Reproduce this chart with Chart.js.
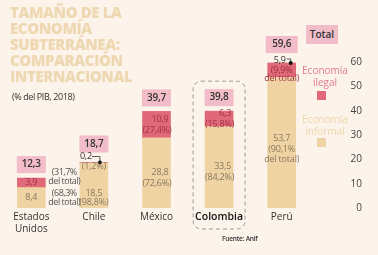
<!DOCTYPE html>
<html>
<head>
<meta charset="utf-8">
<script src="https://cdn.jsdelivr.net/npm/chart.js@4.4.1/dist/chart.umd.min.js"></script>
<style>
  html, body { margin: 0; padding: 0; background: #fcf3ea; }
  #wrap { position: relative; width: 378px; height: 255px; overflow: hidden; font-family: "Open Sans", sans-serif; }
  #wrap canvas { position: absolute; left: 0; top: 0; }
  .abs { position: absolute; white-space: nowrap; }
  #title { left: 10px; top: 4px; font-size: 15px; font-weight: 800; line-height: 16px; color: #eed8b2; letter-spacing: -0.4px; }
  #sub { left: 12px; top: 90px; font-size: 9px; color: #333; letter-spacing: -0.4px; }
  #src { left: 222px; top: 234px; font-size: 6.5px; font-weight: 600; color: #333; letter-spacing: -0.2px; }
  #totalKey { left: 306px; top: 25px; width: 32px; height: 19px; line-height: 19px; background: #f2bcc8; text-align: center; font-size: 10px; font-weight: 600; color: #333; }
  .keyText { width: 50px; text-align: center; font-size: 10px; line-height: 12px; }
  .sq { width: 9px; height: 9px; }
</style>
</head>
<body>
<div id="wrap">
  <canvas id="chart" width="378" height="255"></canvas>
  <div class="abs" id="title">TAMAÑO DE LA<br>ECONOMÍA<br>SUBTERRÁNEA:<br>COMPARACIÓN<br>INTERNACIONAL</div>
  <div class="abs" id="sub">(% del PIB, 2018)</div>
  <div class="abs" id="totalKey">Total</div>
  <div class="abs keyText" style="left:300px;top:64px;color:#e07b8d;">Economía<br>ilegal</div>
  <div class="abs sq" style="left:317px;top:91px;background:#e06878;"></div>
  <div class="abs keyText" style="left:300px;top:113px;color:#efd6a8;">Economía<br>informal</div>
  <div class="abs sq" style="left:317px;top:138px;background:#efd3a3;"></div>
  <div class="abs" id="src">Fuente: Anif</div>
</div>
<script>
// data (% of GDP, 2018)
const countries = [["Estados", "Unidos"], "Chile", "México", "Colombia", "Perú"];
const informal = [8.4, 18.5, 28.8, 33.5, 53.7];
const ilegal = [3.9, 0.2, 10.9, 6.3, 5.9];
const totals = [12.3, 18.7, 39.7, 39.8, 59.6];
const informalShare = ["68,3%", "98,8%", "72,6%", "84,2%", "90,1%"];
const ilegalShare = ["31,7%", "1,2%", "27,4%", "15,8%", "9,9%"];
const yTicks = [0, 10, 20, 30, 40, 50, 60];

const fmt = (v) => v.toFixed(1).replace(".", ",");

const BEIGE = "#efd3a3";
const RED = "#e06878";
const PINK = "#f2bcc8";
const beigeText = "#8a7860";
const redText = "#9e3343";
const noteText = "#555";
const FONT = '"Open Sans", sans-serif';

// labels, totals and notes on top of the bars
const barLabels = {
  id: "barLabels",
  afterDatasetsDraw(chart) {
    const ctx = chart.ctx;
    const inf = chart.getDatasetMeta(0).data;
    const il = chart.getDatasetMeta(1).data;

    function txt(s, x, y, color, align, weight, size) {
      ctx.font = (weight || "400") + " " + (size || 9) + "px " + FONT;
      ctx.fillStyle = color;
      ctx.textAlign = align || "center";
      ctx.textBaseline = "middle";
      ctx.fillText(s, x, y);
    }
    function marker(xText, yText, xDot, yDot) {
      ctx.strokeStyle = "#333";
      ctx.lineWidth = 0.8;
      ctx.beginPath();
      ctx.moveTo(xText, yText - 3);
      ctx.lineTo(xDot, yText - 3);
      ctx.lineTo(xDot, yDot);
      ctx.stroke();
      ctx.fillStyle = "#111";
      ctx.beginPath();
      ctx.arc(xDot, yDot, 2, 0, Math.PI * 2);
      ctx.fill();
    }

    ctx.save();
    ctx.letterSpacing = "-0.2px";
    for (let i = 0; i < countries.length; i++) {
      const x = inf[i].x;
      const w = inf[i].width;
      const right = x + w / 2;
      const top = il[i].y;
      const infMid = (inf[i].base + inf[i].y) / 2;
      const ilMid = (il[i].base + il[i].y) / 2;
      const outside = i === 1 || i === 4;

      // total box
      const bw = i === 4 ? 32 : 29, bh = 17;
      const bBottom = top - (outside ? 10 : 5);
      ctx.fillStyle = PINK;
      ctx.fillRect(x - bw / 2, bBottom - bh, bw, bh);
      txt(fmt(totals[i]), x, bBottom - bh / 2, "#333", "center", "600", 10);

      if (i === 0) {
        txt(fmt(ilegal[i]), x, ilMid, redText);
        txt(fmt(informal[i]), x, infMid, beigeText);
        const nx = right + 19;
        ctx.letterSpacing = "-0.5px";
        txt("(" + ilegalShare[i], nx, ilMid - 10, noteText);
        txt("del total)", nx, ilMid - 1, noteText);
        txt("(" + informalShare[i], nx, infMid - 4, noteText);
        txt("del total)", nx, infMid + 5, noteText);
        ctx.letterSpacing = "-0.2px";
      } else if (i === 1) {
        txt(fmt(ilegal[i]), x - 8, top - 6, "#333");
        marker(x - 2, top - 3, x + 6, top);
        txt("(" + ilegalShare[i] + ")", x, top + 4, beigeText);
        txt(fmt(informal[i]), x, infMid + 8, beigeText);
        txt("(" + informalShare[i] + ")", x, infMid + 17, beigeText);
      } else if (i === 2 || i === 3) {
        txt(fmt(ilegal[i]), right - 2, ilMid - 5.5, redText, "right");
        txt("(" + ilegalShare[i] + ")", right + 1, ilMid + 5.5, redText, "right");
        txt(fmt(informal[i]), right - 2, infMid - 1, beigeText, "right");
        txt("(" + informalShare[i] + ")", right + 1, infMid + 10, beigeText, "right");
      } else {
        txt(fmt(ilegal[i]), x - 2, top - 3, "#333");
        marker(x + 5, top - 1, x + 9, top);
        txt("(" + ilegalShare[i], x, top + 7, redText);
        txt("del total)", x, top + 15, redText);
        txt(fmt(informal[i]), x, infMid - 4, beigeText);
        txt("(" + informalShare[i], x, infMid + 7, beigeText);
        txt("del total)", x, infMid + 17, beigeText);
      }

      // dashed frame around Colombia
      if (i === 3) {
        ctx.setLineDash([4, 3]);
        ctx.strokeStyle = "#9a9a9a";
        ctx.lineWidth = 1;
        ctx.beginPath();
        ctx.roundRect(x - 26, bBottom - bh - 8, 52, chart.chartArea.bottom + 21 - (bBottom - bh - 8), 8);
        ctx.stroke();
        ctx.setLineDash([]);
      }
    }
    ctx.restore();
  }
};

new Chart(document.getElementById("chart"), {
  type: "bar",
  data: {
    labels: countries,
    datasets: [
      { label: "Economía informal", data: informal, backgroundColor: BEIGE, barThickness: 28 },
      { label: "Economía ilegal", data: ilegal, backgroundColor: RED, barThickness: 28 }
    ]
  },
  options: {
    responsive: false,
    animation: false,
    layout: { padding: { top: 62, left: 0, right: 16, bottom: 0 } },
    plugins: { legend: { display: false }, tooltip: { enabled: false } },
    scales: {
      x: {
        stacked: true,
        grid: { display: false, drawTicks: false },
        border: { display: false },
        afterFit: (s) => { s.height = 47; },
        ticks: {
          autoSkip: false,
          maxRotation: 0,
          padding: 3,
          color: (c) => c.index === 3 ? "#111" : "#333",
          font: (c) => c.index === 3 ? { family: FONT, size: 10.5, weight: "600" } : { family: FONT, size: 10 }
        }
      },
      y: {
        stacked: true,
        position: "right",
        min: 0,
        max: 60,
        grid: { display: false, drawTicks: false },
        border: { display: false },
        afterBuildTicks: (s) => { s.ticks = yTicks.map((v) => ({ value: v })); },
        afterFit: (s) => { s.width = 49; },
        ticks: { color: "#444", padding: 37, crossAlign: "far", font: { family: FONT, size: 10 } }
      }
    }
  },
  plugins: [barLabels]
});
</script>
</body>
</html>
